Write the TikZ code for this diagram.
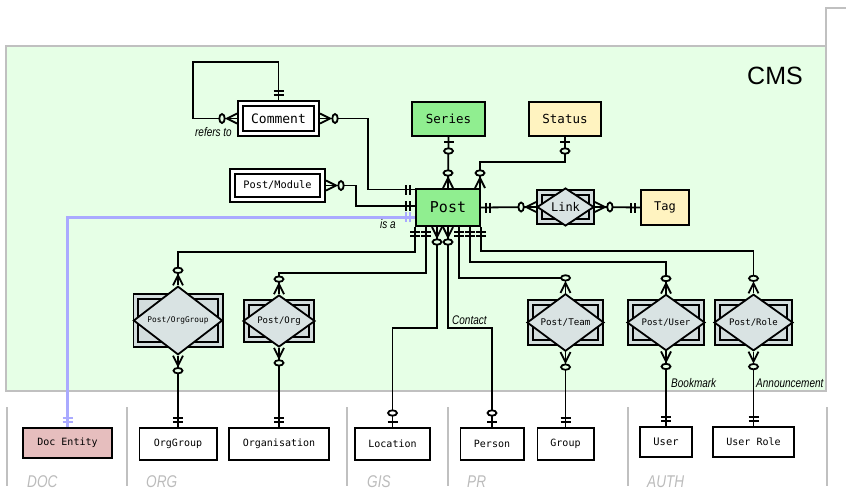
\documentclass[tikz,border=0pt]{standalone}
\usepackage{fontspec}
\usepackage{graphicx}
\setmainfont{Liberation Sans}
\newfontfamily\monofont{DejaVu Sans Mono}
\usetikzlibrary{shapes.geometric, calc, positioning}
\definecolor{cmsgreen}{HTML}{E6FFE6}
\definecolor{framegray}{HTML}{C0C0C0}
\definecolor{entgreen}{HTML}{90EE90}
\definecolor{entyellow}{HTML}{FFF3C0}
\definecolor{assocgray}{HTML}{D3DDDD}
\definecolor{relgray}{HTML}{D9E3E3}
\definecolor{docrose}{HTML}{E6BEBE}
\definecolor{isablue}{HTML}{AAAAFF}
\definecolor{grouptext}{HTML}{BBBBBB}
\newcommand{\narrowtxt}[1]{\scalebox{0.8}[1]{#1}}
\newcommand{\monosize}[1]{\monofont\fontsize{#1}{#1}\selectfont}
\tikzset{>=latex}
\tikzset{
  entity/.style={draw, line width=1.8pt, fill=white, inner sep=0pt,
    font=\monosize{10}},
  weak/.style={entity, double=white, double distance=3pt, outer sep=3.3pt},
  assoc/.style={draw, line width=1.8pt, fill=assocgray, double=assocgray,
    double distance=3pt, outer sep=3.3pt},
  rel/.style={diamond, draw, line width=1.8pt, fill=relgray, inner sep=0pt},
  conn/.style={line width=1.8pt},
  isa/.style={line width=3pt, isablue},
  lbl/.style={font=\itshape\fontsize{12.5}{14}\selectfont, inner sep=0pt},
  grouplbl/.style={font=\itshape\fontsize{17}{18}\selectfont, text=grouptext,
    inner sep=0pt, anchor=base west},
  markline/.style={line width=1.8pt},
  rimfill/.style={fill=cmsgreen},
  % crow's foot ends, #1 = direction away from the entity
  pics/onlyone/.style={code={%
    \draw[markline, rotate=#1] (5,-5) -- (5,5) (9,-5) -- (9,5);
  }},
  pics/zeroone/.style={code={%
    \draw[markline, rotate=#1] (5,-5) -- (5,5);
    \draw[markline, rimfill, rotate=#1] (14,0) ellipse [x radius=2.7, y radius=4.5];
  }},
  pics/zeromany/.style={code={%
    \draw[markline, rotate=#1] (0,-5) -- (10,0) -- (0,5);
    \draw[markline, rimfill, rotate=#1] (15,0) ellipse [x radius=2.7, y radius=4.5];
  }},
}
\begin{document}
\begin{tikzpicture}[x=1pt, y=-1pt]
  \useasboundingbox (0,0) rectangle (853,496); %
  % package frames
  \draw[framegray, line width=2pt, fill=cmsgreen] (6,46) rectangle (826,391); %
  \draw[framegray, line width=2pt] (826,46) -- (826,8) -- (846,8); %
  \foreach \x in {6.5,127,347,448,628,827}
    \draw[framegray, line width=2pt] (\x,407) -- (\x,486); %
  \node[anchor=base west, inner sep=0pt, font=\fontsize{25}{26}\selectfont]
    (cms) at (747,84) {CMS}; %
  \node[grouplbl] (gdoc) at (27,487) {\narrowtxt{DOC}}; %
  \node[grouplbl] (gorg) at (146,487) {\narrowtxt{ORG}}; %
  \node[grouplbl] (ggis) at (367,487) {\narrowtxt{GIS}}; %
  \node[grouplbl] (gpr) at (467,487) {\narrowtxt{PR}}; %
  \node[grouplbl] (gauth) at (647,487) {\narrowtxt{AUTH}}; %

  % entities
  \node[weak, minimum width=76.4, minimum height=30.4, font=\monosize{13}]
    (comment) at (278.5,118.5) {Comment}; %
  \node[weak, minimum width=90.4, minimum height=28.4, font=\monosize{10.3}]
    (pmod) at (277.5,185.5) {Post/Module}; %
  \node[entity, fill=entgreen, minimum width=73.2, minimum height=34.2,
    font=\monosize{12.5}] (series) at (448.5,119) {Series}; %
  \node[entity, fill=entyellow, minimum width=72.2, minimum height=34.2,
    font=\monosize{12.5}] (status) at (565,119) {Status}; %
  \node[entity, fill=entgreen, minimum width=64.2, minimum height=37.2,
    font=\monosize{15}] (post) at (448,207.5) {Post}; %
  \node[entity, fill=entyellow, minimum width=48.2, minimum height=35.2,
    font=\monosize{12}] (tag) at (665,207.5) {Tag}; %
  \node[entity, fill=docrose, minimum width=89.2, minimum height=30.2]
    (docent) at (67.5,443) {Doc Entity}; %
  \node[entity, minimum width=77.2, minimum height=32.2] (orggrp) at (178,444) {OrgGroup}; %
  \node[entity, minimum width=100.2, minimum height=32.2] (orgn) at (279,444) {Organisation}; %
  \node[entity, minimum width=75.2, minimum height=32.2] (loc) at (392.5,444) {Location}; %
  \node[entity, minimum width=63.2, minimum height=32.2] (person) at (492,444) {Person}; %
  \node[entity, minimum width=56.2, minimum height=32.2] (group) at (565.5,444) {Group}; %
  \node[entity, minimum width=52.2, minimum height=30.2, font=\monosize{10.4}]
    (user) at (666,442) {User}; %
  \node[entity, minimum width=81.2, minimum height=30.2] (urole) at (753.5,442) {User Role}; %

  % associative entities
  \node[assoc, minimum width=52.4, minimum height=29.4] (linkbox) at (565.5,207) {}; %
  \node[rel, minimum width=57, minimum height=36, font=\monosize{12}]
    (linkd) at (linkbox) {Link}; %
  \node[assoc, minimum width=84.4, minimum height=48.4] (pogbox) at (178,320.5) {}; %
  \node[rel, minimum width=89, minimum height=53, font=\monosize{7.8}]
    (pogd) at (pogbox) {Post/OrgGroup}; %
  \node[assoc, minimum width=65.4, minimum height=37.4] (porgbox) at (279,321) {}; %
  \node[rel, minimum width=72, minimum height=49, font=\monosize{9}]
    (porgd) at (porgbox) {Post/Org}; %
  \node[assoc, minimum width=70.4, minimum height=40.4] (pteambox) at (565.5,322.5) {}; %
  \node[rel, minimum width=77, minimum height=49, font=\monosize{9.2}]
    (pteamd) at (pteambox) {Post/Team}; %
  \node[assoc, minimum width=71.4, minimum height=40.4] (puserbox) at (666,322.5) {}; %
  \node[rel, minimum width=78, minimum height=49, font=\monosize{9}]
    (puserd) at (puserbox) {Post/User}; %
  \node[assoc, minimum width=72.4, minimum height=40.4] (prolebox) at (753.5,322.5) {}; %
  \node[rel, minimum width=79, minimum height=49, font=\monosize{9}]
    (prold) at (prolebox) {Post/Role}; %

  % connectors
  \begin{scope}[conn]
    \draw (comment.north) -- ++(0,-38) -| ([xshift=-44pt]comment.west) -- (comment.west); %
    \draw (comment.east) -- ++(48,0) |- ([yshift=18pt]post.west); %
    \draw (pmod.east) -- ++(30,0) |- ([yshift=1.5pt]post.west); %
    \draw (series.south) -- (post.north); %
    \draw (status.south) -- ++(0,25) -| ([xshift=32pt]post.north); %
    \draw (post.east) -- (linkd.west); %
    \draw (linkd.east) -- (tag.west); %
    \draw ([xshift=-33pt]post.south) -- ++(0,25) -| (pogd.north); %
    \draw ([xshift=-22pt]post.south) -- ++(0,46) -| (porgd.north); %
    \draw ([xshift=-11pt]post.south) -- ++(0,101) -| (loc.north); %
    \draw (post.south) -- ++(0,101) coordinate (contact) -| (person.north); %
    \draw ([xshift=11pt]post.south) -- ++(0,51) -| (pteamd.north); %
    \draw ([xshift=22pt]post.south) -- ++(0,35) -| (puserd.north); %
    \draw ([xshift=33pt]post.south) -- ++(0,24) -| (prold.north); %
    \draw (pogd.south) -- (orggrp.north); %
    \draw (porgd.south) -- (orgn.north); %
    \draw (pteamd.south) -- (group.north); %
    \draw (puserd.south) -- (user.north); %
    \draw (prold.south) -- (urole.north); %
  \end{scope}
  \draw[isa] ([yshift=-9.5pt]post.west) -| (docent.north); %

  % connector ends
  \pic at (comment.north) {onlyone=90}; %
  \pic at (comment.west) {zeromany=180}; %
  \pic at (comment.east) {zeromany=0}; %
  \pic at ([yshift=18pt]post.west) {onlyone=180}; %
  \pic at (pmod.east) {zeromany=0}; %
  \pic at ([yshift=1.5pt]post.west) {onlyone=180}; %
  \pic at (series.south) {zeroone=-90}; %
  \pic at (post.north) {zeromany=90}; %
  \pic at (status.south) {zeroone=-90}; %
  \pic at ([xshift=32pt]post.north) {zeromany=90}; %
  \pic at (post.east) {onlyone=0}; %
  \pic at (linkd.west) {zeromany=180}; %
  \pic at (linkd.east) {zeromany=0}; %
  \pic at (tag.west) {onlyone=180}; %
  \foreach \dx in {-33,-22,11,22,33}
    \pic at ([xshift=\dx pt]post.south) {onlyone=-90}; %
  \foreach \dx in {-11,0}
    \pic at ([xshift=\dx pt]post.south) {zeromany=-90}; %
  \foreach \r in {pogd,porgd,pteamd,puserd,prold} {
    \pic at (\r.north) {zeromany=90}; %
    \pic at (\r.south) {zeromany=-90}; %
  }
  \foreach \e in {orggrp,orgn,group,user,urole}
    \pic at (\e.north) {onlyone=90}; %
  \pic[rimfill/.style={fill=white}] at (loc.north) {zeroone=90}; %
  \pic[rimfill/.style={fill=white}] at (person.north) {zeroone=90}; %
  \pic[isablue, markline/.style={line width=2.5pt}] at ([yshift=-9.5pt]post.west) {onlyone=180}; %
  \pic[isablue, markline/.style={line width=2.5pt}] at (docent.north) {onlyone=90}; %

  % role labels
  \node[lbl, anchor=base east] (refers) at (232,136) {\narrowtxt{refers to}}; %
  \node[lbl, anchor=base west] (isa) at (380,228) {\narrowtxt{is a}}; %
  \node[lbl, anchor=base west] (contactlbl) at ([xshift=4pt,yshift=4pt]contact) {\narrowtxt{Contact}}; %
  \node[lbl, anchor=base west] (bookmark) at (671,387) {\narrowtxt{Bookmark}}; %
  \node[lbl, anchor=base west] (announce) at (756,387) {\narrowtxt{Announcement}}; %
\end{tikzpicture}
\end{document}
